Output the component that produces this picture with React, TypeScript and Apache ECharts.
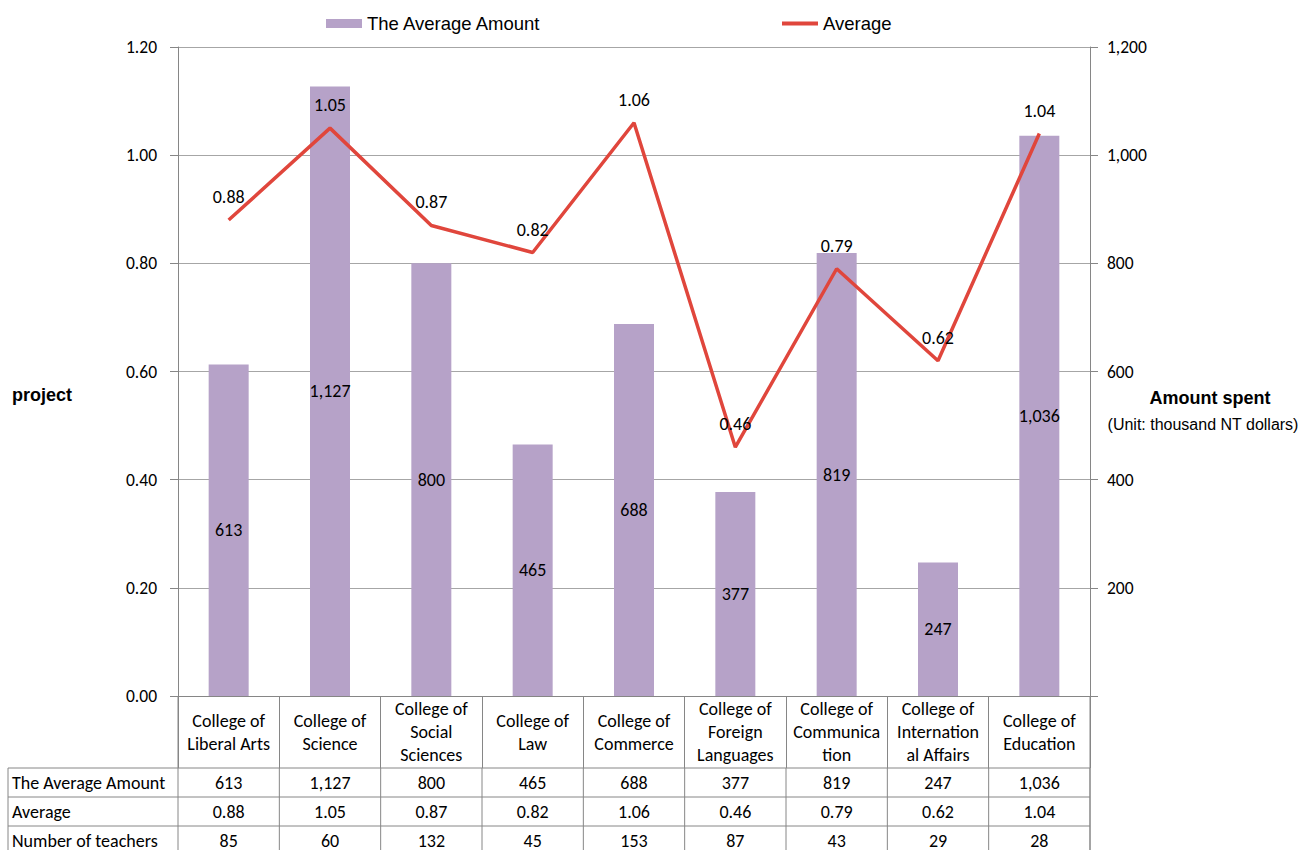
import React, { useEffect, useRef } from "react";
import * as echarts from "echarts";

const categories = [
  "College of\nLiberal Arts",
  "College of\nScience",
  "College of\nSocial\nSciences",
  "College of\nLaw",
  "College of\nCommerce",
  "College of\nForeign\nLanguages",
  "College of\nCommunica\ntion",
  "College of\nInternation\nal Affairs",
  "College of\nEducation",
];
const averageAmount = [613, 1127, 800, 465, 688, 377, 819, 247, 1036];
const averageRatio = [0.88, 1.05, 0.87, 0.82, 1.06, 0.46, 0.79, 0.62, 1.04];
const teachers = [85, 60, 132, 45, 153, 87, 43, 29, 28];
const rowNames = ["The Average Amount", "Average", "Number of teachers"];

const BAR = "#B6A2C8";
const LINE = "#E0463C";
const GRID = "#A6A6A6";
const AXIS = "#868686";
const CAL = "Carlito, Lato, 'Open Sans', sans-serif";
const ARIAL = "'Liberation Sans', Arial, sans-serif";
const FS = 18;

const fmt = (v: number) => v.toLocaleString("en-US");

export default function App() {
  const ref = useRef<HTMLDivElement>(null);
  useEffect(() => {
    if (!ref.current) return;
    const chart = echarts.init(ref.current, undefined, { renderer: "svg" });
    const gridLeft = 178;
    const gridRight = 1090;
    const gridTop = 47;
    const gridBottom = 696;
    chart.setOption({
      animation: false,
      legend: [
        {
          data: [{ name: "The Average Amount", icon: "rect" }],
          left: 321,
          top: 9,
          itemWidth: 36,
          itemHeight: 9,
          textStyle: { fontFamily: ARIAL, fontSize: 18.5, color: "#000" },
        },
        {
          data: [{ name: "Average", icon: "rect" }],
          left: 777,
          top: 9,
          itemWidth: 36,
          itemHeight: 4,
          textStyle: { fontFamily: ARIAL, fontSize: 18.5, color: "#000" },
        },
      ],
      grid: {
        left: gridLeft,
        right: 1301 - gridRight,
        top: gridTop,
        bottom: 850 - gridBottom,
        containLabel: false,
      },
      xAxis: {
        type: "category",
        data: categories,
        axisLine: { show: true, lineStyle: { color: AXIS, width: 1 } },
        axisTick: { show: true, length: 72, lineStyle: { color: AXIS }, alignWithLabel: false },
        axisLabel: {
          interval: 0,
          margin: 36,
          verticalAlign: "middle",
          lineHeight: 23,
          fontFamily: CAL,
          fontSize: FS,
          color: "#000",
        },
      },
      yAxis: [
        {
          type: "value",
          min: 0,
          max: 1.2,
          interval: 0.2,
          axisLine: { show: true, lineStyle: { color: AXIS } },
          axisTick: { show: true, length: 8, lineStyle: { color: AXIS } },
          splitLine: { show: true, lineStyle: { color: GRID, width: 1 } },
          axisLabel: {
            margin: 21,
            formatter: (v: number) => v.toFixed(2),
            fontFamily: CAL,
            fontSize: 17.5,
            color: "#000",
          },
        },
        {
          type: "value",
          min: 0,
          max: 1200,
          interval: 200,
          position: "right",
          axisLine: { show: true, lineStyle: { color: AXIS } },
          axisTick: { show: true, length: 8, lineStyle: { color: AXIS } },
          splitLine: { show: false },
          axisLabel: {
            margin: 17,
            formatter: (v: number) => (v === 0 ? "" : fmt(v)),
            fontFamily: CAL,
            fontSize: 17.5,
            color: "#000",
          },
        },
      ],
      series: [
        {
          name: "The Average Amount",
          type: "bar",
          yAxisIndex: 1,
          data: averageAmount,
          barWidth: 40,
          itemStyle: { color: BAR },
          z: 2,
          label: {
            show: true,
            position: "inside",
            formatter: (p: any) => fmt(p.value),
            fontFamily: CAL,
            fontSize: FS,
            color: "#000",
          },
        },
        {
          name: "Average",
          type: "line",
          yAxisIndex: 0,
          data: averageRatio,
          symbol: "circle",
          symbolSize: 0,
          showSymbol: true,
          lineStyle: { color: LINE, width: 3.5 },
          itemStyle: { color: LINE },
          z: 3,
          label: {
            show: true,
            position: "top",
            distance: 14,
            formatter: (p: any) => p.value.toFixed(2),
            fontFamily: CAL,
            fontSize: FS,
            color: "#000",
          },
        },
      ],
    });

    // Build the data table beneath using axis pixel positions
    const centers = categories.map((c, i) => chart.convertToPixel({ xAxisIndex: 0 }, i) as number);
    const step = centers.length > 1 ? centers[1] - centers[0] : 100;
    const rowTops = [768, 797, 826];
    const rowH = 29;
    const tableLeft = 8;
    const lineStyle = { stroke: AXIS, lineWidth: 1 };
    const elements: any[] = [];
    rowTops.forEach((y) => {
      elements.push({ type: "line", shape: { x1: tableLeft, y1: y, x2: gridRight, y2: y }, style: lineStyle, silent: true });
    });
    elements.push({ type: "line", shape: { x1: tableLeft, y1: 768, x2: tableLeft, y2: 850 }, style: lineStyle });
    elements.push({ type: "line", shape: { x1: gridRight, y1: 696, x2: gridRight, y2: 850 }, style: lineStyle });
    elements.push({ type: "line", shape: { x1: gridLeft, y1: 696, x2: gridLeft, y2: 850 }, style: lineStyle });
    const rows = [averageAmount.map(fmt), averageRatio.map((v) => v.toFixed(2)), teachers.map(String)];
    rows.forEach((vals, r) => {
      const cy = rowTops[r] + rowH / 2;
      elements.push({
        type: "text",
        x: 12,
        y: cy,
        style: { text: rowNames[r], fontFamily: CAL, fontSize: FS, fill: "#000", align: "left", verticalAlign: "middle" },
      });
      vals.forEach((t, i) => {
        elements.push({
          type: "text",
          x: centers[i],
          y: cy,
          style: { text: t, fontFamily: CAL, fontSize: FS, fill: "#000", align: "center", verticalAlign: "middle" },
        });
      });
    });
    centers.forEach((cx) => {
      const bx = cx + step / 2;
      elements.push({ type: "line", shape: { x1: bx, y1: 768, x2: bx, y2: 850 }, style: lineStyle });
    });
    elements.push({
      type: "text",
      x: 12,
      y: 395,
      style: { text: "project", fontFamily: ARIAL, fontSize: 18, fontWeight: "bold", fill: "#000", align: "left", verticalAlign: "middle" },
    });
    elements.push({
      type: "text",
      x: 1210,
      y: 398,
      style: { text: "Amount spent", fontFamily: ARIAL, fontSize: 18, fontWeight: "bold", fill: "#000", align: "center", verticalAlign: "middle" },
    });
    elements.push({
      type: "text",
      x: 1203,
      y: 424,
      style: { text: "(Unit: thousand NT dollars)", fontFamily: ARIAL, fontSize: 16, fill: "#000", align: "center", verticalAlign: "middle" },
    });
    chart.setOption({ graphic: { elements } });

    return () => chart.dispose();
  }, []);
  return (
    <div
      ref={ref}
      style={{ position: "fixed", left: 0, top: 0, width: 1301, height: 850, background: "#fff" }}
    />
  );
}
